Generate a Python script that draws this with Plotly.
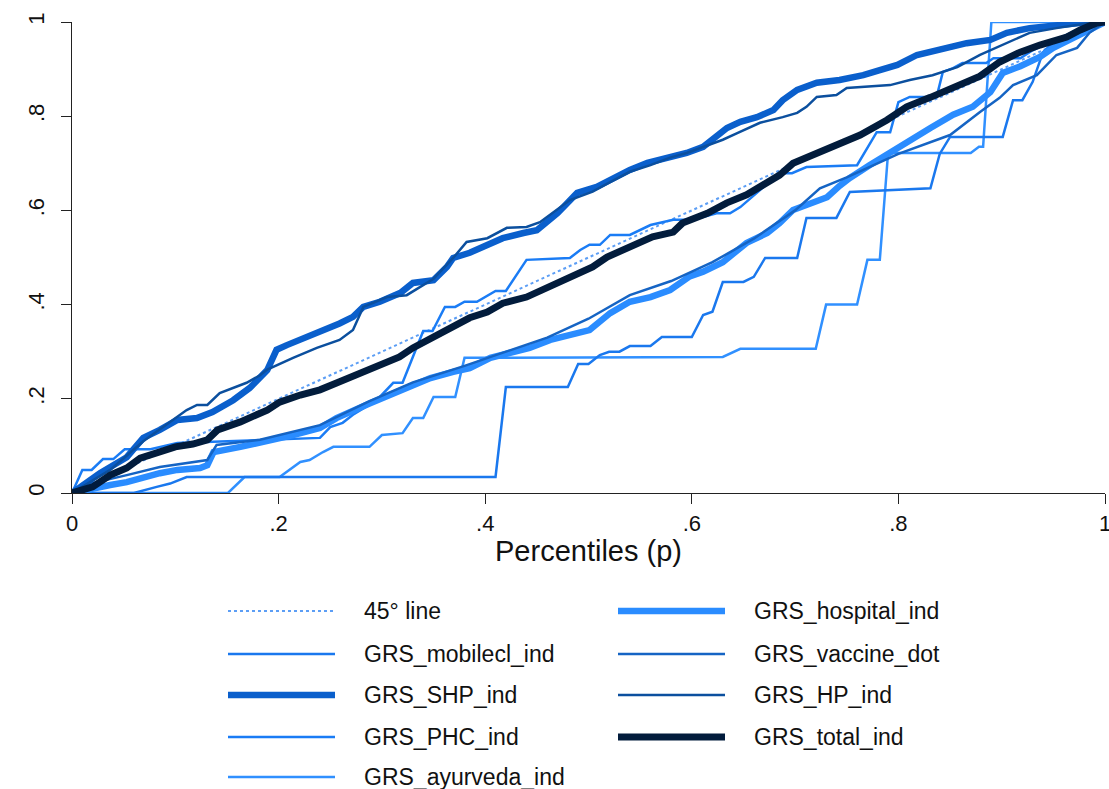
import plotly.graph_objects as go

# ---------------- data ----------------
diag_x = [0, 1]
diag_y = [0, 1]

shp_x = [0, 0.027, 0.053, 0.069, 0.085, 0.102, 0.121, 0.136, 0.156, 0.172, 0.189, 0.198, 0.208, 0.221, 0.24, 0.259,
         0.272, 0.282, 0.298, 0.318, 0.33, 0.35, 0.363, 0.369, 0.385, 0.417, 0.437, 0.45, 0.47, 0.489, 0.508, 0.521,
         0.54, 0.557, 0.579, 0.595, 0.611, 0.624, 0.634, 0.647, 0.663, 0.679, 0.688, 0.702, 0.721, 0.743, 0.766, 0.782,
         0.799, 0.818, 0.84, 0.866, 0.889, 0.905, 0.927, 0.953, 0.985, 1]
shp_y = [0, 0.042, 0.076, 0.117, 0.134, 0.155, 0.159, 0.172, 0.197, 0.223, 0.261, 0.304, 0.314, 0.325, 0.342, 0.36,
         0.374, 0.395, 0.406, 0.425, 0.446, 0.452, 0.48, 0.499, 0.51, 0.541, 0.552, 0.558, 0.594, 0.637, 0.65, 0.665,
         0.686, 0.701, 0.713, 0.722, 0.735, 0.756, 0.775, 0.788, 0.798, 0.813, 0.834, 0.856, 0.871, 0.877, 0.887, 0.898,
         0.909, 0.93, 0.941, 0.955, 0.962, 0.977, 0.987, 0.994, 1.0, 1.0]

hp_x = [0, 0.037, 0.069, 0.1, 0.111, 0.121, 0.131, 0.143, 0.169, 0.182, 0.189, 0.214, 0.237, 0.259, 0.272, 0.282,
        0.305, 0.324, 0.337, 0.35, 0.369, 0.382, 0.402, 0.421, 0.44, 0.453, 0.482, 0.504, 0.521, 0.54, 0.56, 0.579,
        0.595, 0.611, 0.63, 0.644, 0.666, 0.688, 0.702, 0.711, 0.721, 0.74, 0.75, 0.792, 0.811, 0.833, 0.857, 0.879,
        0.905, 0.927, 0.953, 0.985, 1]
hp_y = [0, 0.049, 0.11, 0.16, 0.176, 0.187, 0.187, 0.212, 0.234, 0.25, 0.262, 0.287, 0.308, 0.325, 0.346, 0.395,
        0.416, 0.42, 0.437, 0.455, 0.499, 0.533, 0.541, 0.563, 0.565, 0.575, 0.622, 0.64, 0.66, 0.682, 0.696, 0.712,
        0.722, 0.735, 0.75, 0.764, 0.786, 0.798, 0.807, 0.82, 0.841, 0.845, 0.86, 0.866, 0.877, 0.887, 0.904, 0.93,
        0.955, 0.977, 0.987, 0.998, 1.0]

total_x = [0, 0.02, 0.037, 0.053, 0.066, 0.085, 0.10, 0.117, 0.131, 0.141, 0.163, 0.189, 0.201, 0.221, 0.24, 0.259,
           0.279, 0.291, 0.317, 0.33, 0.35, 0.373, 0.385, 0.402, 0.417, 0.44, 0.46, 0.482, 0.504, 0.518, 0.54, 0.562,
           0.582, 0.591, 0.615, 0.634, 0.653, 0.669, 0.685, 0.698, 0.717, 0.743, 0.763, 0.789, 0.808, 0.831, 0.853,
           0.879, 0.898, 0.918, 0.937, 0.963, 0.976, 0.992, 1]
total_y = [0, 0.013, 0.038, 0.053, 0.074, 0.087, 0.098, 0.104, 0.113, 0.134, 0.151, 0.176, 0.193, 0.208, 0.219, 0.236,
           0.255, 0.268, 0.289, 0.308, 0.331, 0.357, 0.372, 0.384, 0.403, 0.416, 0.437, 0.459, 0.48, 0.501, 0.522,
           0.544, 0.554, 0.573, 0.594, 0.616, 0.633, 0.654, 0.675, 0.70, 0.718, 0.743, 0.76, 0.792, 0.82, 0.84, 0.862,
           0.885, 0.915, 0.936, 0.951, 0.968, 0.983, 0.998, 1]

hosp_x = [0, 0.02, 0.037, 0.053, 0.069, 0.085, 0.102, 0.124, 0.131, 0.137, 0.163, 0.182, 0.198, 0.214, 0.24, 0.256,
          0.288, 0.308, 0.327, 0.347, 0.369, 0.385, 0.405, 0.424, 0.443, 0.463, 0.482, 0.501, 0.521, 0.54, 0.56,
          0.579, 0.598, 0.611, 0.63, 0.653, 0.673, 0.685, 0.698, 0.717, 0.731, 0.743, 0.753, 0.772, 0.792, 0.808,
          0.831, 0.853, 0.872, 0.889, 0.901, 0.918, 0.937, 0.95, 0.969, 0.985, 1]
hosp_y = [0, 0.011, 0.017, 0.023, 0.034, 0.042, 0.049, 0.053, 0.059, 0.087, 0.098, 0.106, 0.113, 0.123, 0.138, 0.159,
          0.19, 0.208, 0.223, 0.244, 0.257, 0.265, 0.287, 0.297, 0.308, 0.325, 0.335, 0.346, 0.382, 0.406, 0.416,
          0.431, 0.46, 0.47, 0.49, 0.531, 0.552, 0.573, 0.601, 0.616, 0.628, 0.652, 0.669, 0.696, 0.724, 0.745,
          0.775, 0.803, 0.82, 0.851, 0.892, 0.906, 0.926, 0.945, 0.966, 0.983, 1]

vacc_x = [0, 0.02, 0.053, 0.085, 0.131, 0.14, 0.182, 0.24, 0.288, 0.33, 0.38, 0.42, 0.46, 0.50, 0.54, 0.58, 0.62,
          0.66, 0.70, 0.724, 0.75, 0.80, 0.85, 0.879, 0.898, 0.911, 0.934, 0.953, 0.973, 0.985, 1]
vacc_y = [0, 0.021, 0.038, 0.055, 0.07, 0.102, 0.113, 0.144, 0.195, 0.235, 0.27, 0.30, 0.33, 0.37, 0.42, 0.45, 0.49,
          0.54, 0.60, 0.647, 0.67, 0.72, 0.76, 0.809, 0.839, 0.866, 0.887, 0.93, 0.945, 0.977, 1]

mob_x = [0, 0.06, 0.082, 0.095, 0.111, 0.41, 0.42, 0.48, 0.49, 0.50, 0.511, 0.52, 0.53, 0.54, 0.56, 0.571, 0.60,
         0.611, 0.62, 0.63, 0.65, 0.66, 0.671, 0.702, 0.711, 0.74, 0.753, 0.831, 0.84, 0.85, 0.901, 0.911, 0.92, 0.93,
         0.94, 0.95, 1]
mob_y = [0, 0, 0.013, 0.02, 0.034, 0.034, 0.225, 0.225, 0.274, 0.274, 0.293, 0.30, 0.30, 0.312, 0.312, 0.331, 0.331,
         0.378, 0.385, 0.448, 0.448, 0.459, 0.499, 0.499, 0.584, 0.584, 0.639, 0.647, 0.72, 0.756, 0.756, 0.834, 0.834,
         0.873, 0.936, 0.957, 1.0]

phc_x = [0, 0.01, 0.019, 0.03, 0.04, 0.051, 0.076, 0.102, 0.24, 0.25, 0.262, 0.272, 0.295, 0.311, 0.32, 0.34, 0.349,
         0.361, 0.371, 0.38, 0.392, 0.41, 0.42, 0.44, 0.482, 0.492, 0.501, 0.511, 0.521, 0.54, 0.56, 0.582, 0.601,
         0.624, 0.637, 0.647, 0.685, 0.697, 0.711, 0.76, 0.779, 0.792, 0.80, 0.811, 0.837, 0.843, 0.853, 0.862, 0.885,
         0.892, 0.918, 0.93, 0.95, 0.97, 1]
phc_y = [0, 0.049, 0.049, 0.072, 0.072, 0.093, 0.093, 0.106, 0.117, 0.14, 0.149, 0.166, 0.197, 0.234, 0.234, 0.344,
         0.344, 0.395, 0.395, 0.406, 0.406, 0.429, 0.429, 0.495, 0.499, 0.516, 0.527, 0.527, 0.548, 0.548, 0.569, 0.58,
         0.58, 0.594, 0.594, 0.607, 0.679, 0.679, 0.692, 0.696, 0.766, 0.766, 0.83, 0.841, 0.841, 0.894, 0.902, 0.913,
         0.913, 0.923, 0.923, 0.94, 0.96, 0.98, 1]

ayur_x = [0, 0.151, 0.167, 0.201, 0.221, 0.23, 0.243, 0.253, 0.288, 0.30, 0.32, 0.33, 0.34, 0.35, 0.371, 0.38, 0.63,
          0.647, 0.72, 0.73, 0.76, 0.77, 0.782, 0.79, 0.87, 0.878, 0.882, 0.89, 1]
ayur_y = [0, 0, 0.034, 0.034, 0.066, 0.07, 0.087, 0.098, 0.098, 0.123, 0.127, 0.159, 0.159, 0.204, 0.204, 0.287,
          0.289, 0.306, 0.306, 0.40, 0.40, 0.495, 0.495, 0.722, 0.722, 0.735, 0.735, 1.0, 1.0]

series_names = ["45° line", "GRS_mobilecl_ind", "GRS_SHP_ind", "GRS_PHC_ind", "GRS_ayurveda_ind",
                "GRS_hospital_ind", "GRS_vaccine_dot", "GRS_HP_ind", "GRS_total_ind"]
series_x = [diag_x, mob_x, shp_x, phc_x, ayur_x, hosp_x, vacc_x, hp_x, total_x]
series_y = [diag_y, mob_y, shp_y, phc_y, ayur_y, hosp_y, vacc_y, hp_y, total_y]

x_ticks = [0, 0.2, 0.4, 0.6, 0.8, 1]
x_tick_labels = ["0", ".2", ".4", ".6", ".8", "1"]
y_ticks = [0, 0.2, 0.4, 0.6, 0.8, 1]
y_tick_labels = ["0", ".2", ".4", ".6", ".8", "1"]
x_title = "Percentiles (p)"

# ---------------- styles ----------------
styles = {
    "45° line": dict(color="#5c9ef5", width=2, dash="dot"),
    "GRS_mobilecl_ind": dict(color="#1a78ee", width=2.5, dash="solid"),
    "GRS_SHP_ind": dict(color="#0a5fcc", width=6.5, dash="solid"),
    "GRS_PHC_ind": dict(color="#1a7cf5", width=2.5, dash="solid"),
    "GRS_ayurveda_ind": dict(color="#3090ff", width=2.5, dash="solid"),
    "GRS_hospital_ind": dict(color="#2a8cff", width=6.5, dash="solid"),
    "GRS_vaccine_dot": dict(color="#1564c4", width=2.5, dash="solid"),
    "GRS_HP_ind": dict(color="#0b4f9e", width=2.5, dash="solid"),
    "GRS_total_ind": dict(color="#021c3c", width=7, dash="solid"),
}
draw_order = ["45° line", "GRS_ayurveda_ind", "GRS_mobilecl_ind", "GRS_PHC_ind", "GRS_hospital_ind",
              "GRS_vaccine_dot", "GRS_SHP_ind", "GRS_HP_ind", "GRS_total_ind"]

FONT = "Liberation Sans, Arial, sans-serif"

fig = go.Figure()
for name in draw_order:
    i = series_names.index(name)
    st = styles[name]
    fig.add_trace(go.Scatter(x=series_x[i], y=series_y[i], mode="lines", name=name,
                             line=dict(color=st["color"], width=st["width"], dash=st["dash"]),
                             showlegend=False))

# ---------------- manual legend (two columns, column-major) ----------------
W, H = 1109, 789
L, R, T, B = 72, 4, 22, 296
pw, ph = W - L - R, H - T - B


def px2paper(px, py):
    return (px - L) / pw, (H - B - py) / ph


row_y = [611, 654, 695, 737, 777]
col_line = [(228, 335), (618, 725)]
col_text = [362, 752]
shapes = []
annotations = []
for k, name in enumerate(series_names):
    col = 0 if k < 5 else 1
    row = k if k < 5 else k - 5
    st = styles[name]
    x0, y0 = px2paper(col_line[col][0], row_y[row])
    x1, _ = px2paper(col_line[col][1], row_y[row])
    shapes.append(dict(type="line", xref="paper", yref="paper", x0=x0, x1=x1, y0=y0, y1=y0,
                       line=dict(color=st["color"], width=st["width"], dash=st["dash"])))
    tx, ty = px2paper(col_text[col], row_y[row])
    annotations.append(dict(xref="paper", yref="paper", x=tx, y=ty, text=name, showarrow=False,
                            xanchor="left", yanchor="middle", font=dict(family=FONT, size=23, color="#111")))

# x-axis title placed as a centered annotation below the tick labels
tx, ty = px2paper((L + W - R) / 2, 551)
annotations.append(dict(xref="paper", yref="paper", x=0.5, y=ty, text=x_title, showarrow=False,
                        xanchor="center", yanchor="middle", font=dict(family=FONT, size=29, color="#111")))

fig.update_layout(
    width=W, height=H,
    margin=dict(l=L, r=R, t=T, b=B, pad=0, autoexpand=False),
    plot_bgcolor="white", paper_bgcolor="white",
    font=dict(family=FONT, size=22, color="#111"),
    shapes=shapes, annotations=annotations,
    xaxis=dict(range=[0, 1], tickvals=x_ticks, ticktext=x_tick_labels, showgrid=False, zeroline=False,
               showline=True, linecolor="#222", linewidth=1.3, ticks="outside", ticklen=10, tickwidth=1.3,
               tickcolor="#222", tickfont=dict(size=22), automargin=False, ticklabeloverflow="allow"),
    yaxis=dict(range=[0, 1], tickvals=y_ticks, ticktext=y_tick_labels, showgrid=False, zeroline=False,
               showline=True, linecolor="#222", linewidth=1.3, ticks="outside", ticklen=10, tickwidth=1.3,
               tickcolor="#222", tickangle=-90, tickfont=dict(size=22), automargin=False,
               ticklabeloverflow="allow", ticklabelstandoff=8),
)

fig.write_html("out.html", config={"displayModeBar": False},
               post_script="document.body.style.margin='0px';document.body.style.overflow='hidden';")
